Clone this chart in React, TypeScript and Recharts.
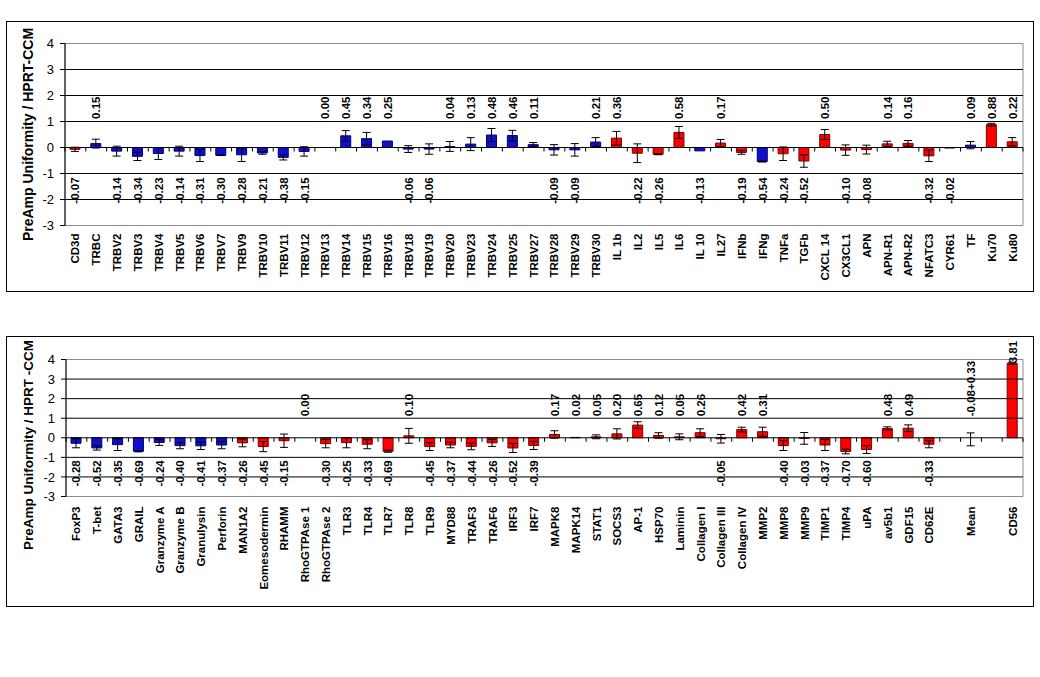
import React from 'react';
import {
  ComposedChart,
  Bar,
  Line,
  XAxis,
  YAxis,
  ErrorBar,
  Cell,
  ReferenceLine,
  ReferenceArea,
} from 'recharts';

const FONT = '"Liberation Sans", Arial, Helvetica, sans-serif';

// upper panel
const topCategories = [
  'CD3d', 'TRBC', 'TRBV2', 'TRBV3', 'TRBV4', 'TRBV5', 'TRBV6', 'TRBV7', 'TRBV9', 'TRBV10',
  'TRBV11', 'TRBV12', 'TRBV13', 'TRBV14', 'TRBV15', 'TRBV16', 'TRBV18', 'TRBV19', 'TRBV20', 'TRBV23',
  'TRBV24', 'TRBV25', 'TRBV27', 'TRBV28', 'TRBV29', 'TRBV30', 'IL 1b', 'IL2', 'IL5', 'IL6',
  'IL 10', 'IL27', 'IFNb', 'IFNg', 'TNFa', 'TGFb', 'CXCL 14', 'CX3CL1', 'APN', 'APN-R1',
  'APN-R2', 'NFATC3', 'CYR61', 'TF', 'Ku70', 'Ku80',
];
const topValues = [
  -0.07, 0.15, -0.14, -0.34, -0.23, -0.14, -0.31, -0.30, -0.28, -0.21,
  -0.38, -0.15, 0.00, 0.45, 0.34, 0.25, -0.06, -0.06, 0.04, 0.13,
  0.48, 0.46, 0.11, -0.09, -0.09, 0.21, 0.36, -0.22, -0.26, 0.58,
  -0.13, 0.17, -0.19, -0.54, -0.24, -0.52, 0.50, -0.10, -0.08, 0.14,
  0.16, -0.32, -0.02, 0.09, 0.88, 0.22,
];
const topErrors = [
  0.08, 0.17, 0.19, 0.16, 0.23, 0.19, 0.23, 0.01, 0.26, 0.05,
  0.10, 0.18, 0.09, 0.20, 0.24, 0, 0.13, 0.20, 0.19, 0.25,
  0.25, 0.20, 0.08, 0.20, 0.24, 0.17, 0.26, 0.36, 0.02, 0.23,
  0, 0.14, 0.07, 0.02, 0.26, 0.24, 0.19, 0.20, 0.17, 0.10,
  0.11, 0.22, 0, 0.14, 0.05, 0.16,
];
const topColors = [
  'r', 'b', 'b', 'b', 'b', 'b', 'b', 'b', 'b', 'b',
  'b', 'b', 'b', 'b', 'b', 'b', 'b', 'b', 'b', 'b',
  'b', 'b', 'b', 'b', 'b', 'b', 'r', 'r', 'r', 'r',
  'b', 'r', 'r', 'b', 'r', 'r', 'r', 'r', 'r', 'r',
  'r', 'r', 'b', 'b', 'r', 'r',
];

// lower panel
const bottomCategories = [
  'FoxP3', 'T-bet', 'GATA3', 'GRAIL', 'Granzyme A', 'Granzyme B', 'Granulysin', 'Perforin', 'MAN1A2', 'Eomesodermin',
  'RHAMM', 'RhoGTPAse 1', 'RhoGTPAse 2', 'TLR3', 'TLR4', 'TLR7', 'TLR8', 'TLR9', 'MYD88', 'TRAF3',
  'TRAF6', 'IRF3', 'IRF7', 'MAPK8', 'MAPK14', 'STAT1', 'SOCS3', 'AP-1', 'HSP70', 'Laminin',
  'Collagen I', 'Collagen III', 'Collagen IV', 'MMP2', 'MMP8', 'MMP9', 'TIMP1', 'TIMP4', 'uPA', 'av5b1',
  'GDF15', 'CD62E', ' ', 'Mean', '  ', 'CD56',
];
const bottomValues = [
  -0.28, -0.52, -0.35, -0.69, -0.24, -0.40, -0.41, -0.37, -0.26, -0.45,
  -0.15, 0.00, -0.30, -0.25, -0.33, -0.69, 0.10, -0.45, -0.37, -0.44,
  -0.26, -0.52, -0.39, 0.17, 0.02, 0.05, 0.20, 0.65, 0.12, 0.05,
  0.26, -0.05, 0.42, 0.31, -0.40, -0.03, -0.37, -0.70, -0.60, 0.48,
  0.49, -0.33, null, -0.08, null, 3.81,
];
const bottomErrors = [
  0.23, 0.11, 0.30, 0.03, 0.15, 0.16, 0.19, 0.19, 0.20, 0.26,
  0.34, 0.20, 0.21, 0.26, 0.23, 0.05, 0.38, 0.20, 0.14, 0.17,
  0.18, 0.23, 0.21, 0.19, 0, 0.10, 0.26, 0.17, 0.14, 0.15,
  0.20, 0.22, 0.12, 0.23, 0.25, 0.30, 0.28, 0.12, 0.20, 0.08,
  0.17, 0.18, null, 0.33, null, 0.05,
];
const bottomColors = [
  'b', 'b', 'b', 'b', 'b', 'b', 'b', 'b', 'r', 'r',
  'r', 'r', 'r', 'r', 'r', 'r', 'r', 'r', 'r', 'r',
  'r', 'r', 'r', 'r', 'r', 'r', 'r', 'r', 'r', 'r',
  'r', 'r', 'r', 'r', 'r', 'r', 'r', 'r', 'r', 'r',
  'r', 'r', 'n', 'n', 'n', 'r',
];

const yTicks = [4, 3, 2, 1, 0, -1, -2, -3];
const gridValues = [3, 2, 1, -1, -2];

const PALETTE: Record<string, { fill: string; stroke: string }> = {
  b: { fill: '#1010CC', stroke: '#00006E' },
  r: { fill: '#FF0000', stroke: '#780000' },
  n: { fill: 'none', stroke: 'none' },
};

const fmt = (v: number) => v.toFixed(2);

function buildRows(names: string[], values: (number | null)[], errors: (number | null)[], colors: string[]) {
  return names.map((name, i) => {
    const v = values[i];
    const e = errors[i];
    if (v == null) {
      return { name, value: null, err: null, color: 'n', label: null, above: true, labelPos: null };
    }
    const isMean = name === 'Mean';
    const above = v >= 0 || isMean;
    return {
      name,
      value: v,
      err: e,
      color: colors[i],
      label: isMean ? `${fmt(v)}+${fmt(e as number)}` : fmt(v),
      above,
      // labels sit in a fixed row above / below the axis, tall bars push them up
      labelPos: above ? Math.max(v, 1.1) : -1.15,
    };
  });
}

const topRows = buildRows(topCategories, topValues, topErrors, topColors);
const bottomRows = buildRows(bottomCategories, bottomValues, bottomErrors, bottomColors);

const CategoryTick = (props: any) => {
  const { x, y, payload } = props;
  return (
    <text
      x={x}
      y={y}
      transform={`rotate(-90 ${x} ${y})`}
      textAnchor="end"
      dy="0.35em"
      fontFamily={FONT}
      fontWeight="bold"
      fontSize={11.5}
      fill="#000"
    >
      {payload.value}
    </text>
  );
};

const renderValueLabel = (p: any) => {
  const { cx, cy, payload, index } = p;
  if (cx == null || cy == null || payload == null || payload.label == null) return <g key={index} />;
  return (
    <text
      key={index}
      x={cx}
      y={cy}
      transform={`rotate(-90 ${cx} ${cy})`}
      textAnchor={payload.above ? 'start' : 'end'}
      dy="0.35em"
      fontFamily={FONT}
      fontWeight="bold"
      fontSize={11.5}
      fill="#000"
    >
      {payload.label}
    </text>
  );
};

// category axis drawn at y = 0 with small ticks between categories
const zeroAxis = (count: number) => (p: any) => {
  const { x1, x2, y1 } = p;
  const step = (x2 - x1) / count;
  const marks = [];
  for (let i = 0; i <= count; i++) {
    const x = x1 + i * step;
    marks.push(<line key={i} x1={x} x2={x} y1={y1} y2={y1 + 4} stroke="#000" strokeWidth={1} />);
  }
  return (
    <g>
      <line x1={x1} x2={x2} y1={y1} y2={y1} stroke="#000" strokeWidth={1} />
      {marks}
    </g>
  );
};

type PanelProps = {
  rows: any[];
  title: string;
  top: number;
  margin: { top: number; right: number; bottom: number; left: number };
  xAxisHeight: number;
  labelGap: number;
  titleX: number;
  titleShift: number;
  titleSize: number;
};

function Panel({ rows, title, top, margin, xAxisHeight, labelGap, titleX, titleShift, titleSize }: PanelProps) {
  return (
    <div
      style={{
        position: 'absolute',
        left: 6,
        top,
        width: 1028,
        height: 271,
        border: '1px solid #000',
        boxSizing: 'border-box',
      }}
    >
      <ComposedChart width={1026} height={269} data={rows} margin={margin}>
        <ReferenceArea y1={-3} y2={4} fill="none" stroke="#8C8C8C" strokeWidth={1} ifOverflow="visible" />
        {gridValues.map((g) => (
          <ReferenceLine key={g} y={g} stroke="#000" strokeWidth={1} />
        ))}
        <XAxis
          dataKey="name"
          interval={0}
          height={xAxisHeight}
          axisLine={false}
          tickLine={false}
          tickSize={0}
          tickMargin={labelGap}
          tick={<CategoryTick />}
        />
        <YAxis
          type="number"
          domain={[-3, 4]}
          ticks={yTicks}
          interval={0}
          width={44}
          tickSize={5}
          tickMargin={6}
          axisLine={{ stroke: '#000' }}
          tickLine={{ stroke: '#000' }}
          tick={{ fontSize: 13, fill: '#000', fontFamily: FONT }}
          label={{
            content: (lp: any) => {
              const vb = lp.viewBox || {};
              const cx = vb.x + titleX;
              const cy = vb.y + vb.height / 2 + titleShift;
              return (
                <text
                  x={cx}
                  y={cy}
                  transform={`rotate(-90 ${cx} ${cy})`}
                  textAnchor="middle"
                  dy="0.35em"
                  fontFamily={FONT}
                  fontWeight="bold"
                  fontSize={titleSize}
                  fill="#000"
                >
                  {title}
                </text>
              );
            },
          }}
        />
        <Bar dataKey="value" barSize={10} isAnimationActive={false}>
          {rows.map((r, i) => (
            <Cell key={i} fill={PALETTE[r.color].fill} stroke={PALETTE[r.color].stroke} strokeWidth={1} />
          ))}
          <ErrorBar dataKey="err" direction="y" width={4} stroke="#000" strokeWidth={1} />
        </Bar>
        <ReferenceLine y={0} stroke="#000" shape={zeroAxis(rows.length)} />
        <Line
          dataKey="labelPos"
          stroke="none"
          dot={renderValueLabel}
          activeDot={false}
          isAnimationActive={false}
        />
      </ComposedChart>
    </div>
  );
}

export default function App() {
  return (
    <div
      style={{
        position: 'absolute',
        left: 0,
        top: 0,
        width: 1040,
        height: 677,
        background: '#fff',
        fontFamily: FONT,
      }}
    >
      <Panel
        rows={topRows}
        title="PreAmp Uniformity / HPRT-CCM"
        top={21}
        margin={{ top: 21.5, right: 10, bottom: 5.5, left: 14 }}
        xAxisHeight={60}
        labelGap={8}
        titleX={7}
        titleShift={0}
        titleSize={14}
      />
      <Panel
        rows={bottomRows}
        title="PreAmp Uniformity / HPRT -CCM"
        top={336}
        margin={{ top: 22.5, right: 10, bottom: 4.5, left: 15 }}
        xAxisHeight={105}
        labelGap={10}
        titleX={6}
        titleShift={17}
        titleSize={13.5}
      />
    </div>
  );
}
